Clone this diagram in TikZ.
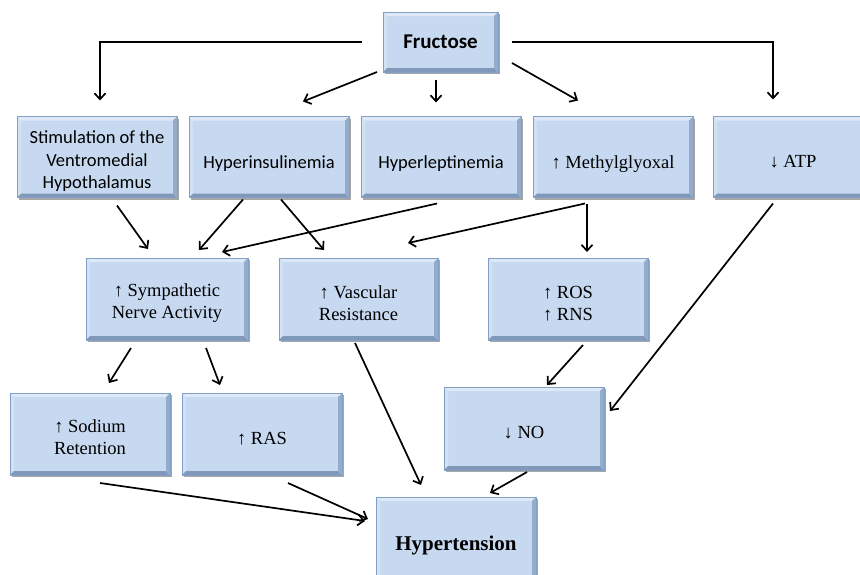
\documentclass[tikz,border=0pt]{standalone}
\usepackage{fontspec}
\setmainfont{Liberation Serif}
\newfontfamily\calfont{Carlito}
\usetikzlibrary{arrows.meta,shadows}
\definecolor{boxfill}{RGB}{198,217,240}
\definecolor{boxline}{RGB}{130,160,198}
\definecolor{bevtop}{RGB}{222,233,247}
\definecolor{bevleft}{RGB}{210,225,243}
\definecolor{bevbot}{RGB}{128,153,186}
\definecolor{bevright}{RGB}{148,172,204}
\newcommand\bev[1]{%
 \fill[bevtop] (#1.north west) -- (#1.north east) -- ([shift={(-4pt,-4pt)}]#1.north east) -- ([shift={(4pt,-4pt)}]#1.north west) -- cycle;
 \fill[bevleft] (#1.north west) -- (#1.south west) -- ([shift={(4pt,4pt)}]#1.south west) -- ([shift={(4pt,-4pt)}]#1.north west) -- cycle;
 \fill[bevbot] (#1.south west) -- (#1.south east) -- ([shift={(-4pt,4pt)}]#1.south east) -- ([shift={(4pt,4pt)}]#1.south west) -- cycle;
 \fill[bevright] (#1.north east) -- (#1.south east) -- ([shift={(-4pt,4pt)}]#1.south east) -- ([shift={(-4pt,-4pt)}]#1.north east) -- cycle;
 \draw[boxline,line width=0.6pt] (#1.north west) rectangle (#1.south east);
}
\tikzset{
 box/.style={fill=boxfill, minimum width=160pt, minimum height=81pt, inner sep=0pt, outer sep=0pt,
   drop shadow={shadow xshift=1.5pt, shadow yshift=-2pt, opacity=0.35, fill=black}},
 txt/.style={align=center, inner sep=0pt, font=\fontsize{18.5}{22}\selectfont},
 cal/.style={txt, font=\calfont\fontsize{18.5}{22.5}\selectfont},
 arr/.style={draw=black, line width=1.7pt, -{Straight Barb[length=6pt,width=11pt,line width=1.7pt]}},
}
\begin{document}
\begin{tikzpicture}[x=1pt,y=-1pt]
\useasboundingbox (0,0) rectangle (860,574);
\clip (0,0) rectangle (860,574);
\fill[white] (0,0) rectangle (860,574);
% boxes
\node[box, minimum width=115pt, minimum height=60pt] (fru) at (440.5,42) {};
\node[box] (stim) at (97,157) {};
\node[box] (hins) at (269,157) {};
\node[box] (hlep) at (441,157) {};
\node[box] (mgo) at (613,157) {};
\node[box] (atp) at (793,157) {};
\node[box, minimum width=162pt, minimum height=82pt] (sna) at (167,299) {};
\node[box, minimum width=159pt, minimum height=82pt] (vas) at (358.5,299) {};
\node[box, minimum height=82pt] (ros) at (568,299) {};
\node[box, minimum height=82pt] (sod) at (90,434) {};
\node[box, minimum height=82pt] (ras) at (262,434) {};
\node[box, minimum height=83pt] (no) at (524,428.5) {};
\node[box, minimum height=86pt] (hyp) at (456,540) {};
\foreach \n in {fru,stim,hins,hlep,mgo,atp,sna,vas,ros,sod,ras,no,hyp}{\bev{\n}}
% texts
\node[txt, font=\calfont\bfseries\fontsize{21}{24}\selectfont] (fruT) at (fru.center) {Fructose};
\node[cal] (stimT) at ([yshift=-4.5pt]stim.center) {Stimulation of the\\Ventromedial\\Hypothalamus};
\node[cal] (hinsT) at ([yshift=-6.5pt]hins.center) {Hyperinsulinemia};
\node[cal] (hlepT) at ([yshift=-6.5pt]hlep.center) {Hyperleptinemia};
\node[txt] (mgoT) at ([yshift=-7pt]mgo.center) {↑ Methylglyoxal};
\node[txt] (atpT) at ([yshift=-4.5pt]atp.center) {↓ ATP};
\node[txt] (snaT) at ([yshift=-4.5pt]sna.center) {↑ Sympathetic\\Nerve Activity};
\node[txt] (vasT) at ([yshift=-4.5pt]vas.center) {↑ Vascular\\Resistance};
\node[txt] (rosT) at ([yshift=-4.5pt]ros.center) {↑ ROS\\↑ RNS};
\node[txt] (sodT) at ([yshift=-3pt]sod.center) {↑ Sodium\\Retention};
\node[txt] (rasT) at ([yshift=-4.5pt]ras.center) {↑ RAS};
\node[txt] (noT) at ([yshift=-4pt]no.center) {↓ NO};
\node[txt, font=\bfseries\fontsize{21}{24}\selectfont] (hypT) at ([yshift=-5pt]hyp.center) {Hypertension};
% connectors
\draw[arr] ([xshift=-21pt]fru.west) -| ([xshift=3pt,yshift=16pt]stim.north);
\draw[arr] ([xshift=-6pt]fru.south west) -- ([xshift=34pt,yshift=15pt]hins.north);
\draw[arr] ([xshift=-4.5pt,yshift=-8pt]fru.south) -- ([xshift=-5pt,yshift=14pt]hlep.north);
\draw[arr] ([xshift=14pt,yshift=-21pt]fru.east) -- ([xshift=-35pt,yshift=16pt]mgo.north);
\draw[arr] ([xshift=14pt]fru.east) -| ([xshift=-20pt,yshift=17pt]atp.north);
\draw[arr] ([xshift=20pt,yshift=-8pt]stim.south) -- ([xshift=-19pt,yshift=9pt]sna.north);
\draw[arr] ([xshift=-26pt,yshift=-2pt]hins.south) -- ([xshift=32pt,yshift=8pt]sna.north);
\draw[arr] ([xshift=12pt,yshift=-2pt]hins.south) -- ([xshift=-34.5pt,yshift=8pt]vas.north);
\draw[arr] ([xshift=-4pt,yshift=-6pt]hlep.south) -- ([xshift=55pt,yshift=6pt]sna.north);
\draw[arr] ([xshift=-28pt,yshift=-6pt]mgo.south) -- ([xshift=49.5pt,yshift=15pt]vas.north);
\draw[arr] ([xshift=-26pt,yshift=-6pt]mgo.south) -- ([xshift=19pt,yshift=6pt]ros.north);
\draw[arr] ([xshift=-36pt,yshift=-8pt]sna.south) -- ([xshift=19pt,yshift=10pt]sod.north);
\draw[arr] ([xshift=39pt,yshift=-8pt]sna.south) -- ([xshift=-42pt,yshift=8pt]ras.north);
\draw[arr] ([xshift=-3.5pt,yshift=-3pt]vas.south) -- ([xshift=-35pt,yshift=12pt]hyp.north);
\draw[arr] ([xshift=15pt,yshift=-5pt]ros.south) -- ([xshift=23pt,yshift=2pt]no.north);
\draw[arr] ([xshift=-20pt,yshift=-6pt]atp.south) -- ([xshift=6pt,yshift=17.5pt]no.east);
\draw[arr] ([xshift=3pt,yshift=-2pt]no.south) -- ([xshift=34pt,yshift=4pt]hyp.north);
\draw[arr] ([xshift=10pt,yshift=-8pt]sod.south) -- ([xshift=-11pt,yshift=19pt]hyp.west);
\draw[arr] ([xshift=26pt,yshift=-8pt]ras.south) -- ([xshift=-8pt,yshift=21pt]hyp.west);
\end{tikzpicture}
\end{document}
